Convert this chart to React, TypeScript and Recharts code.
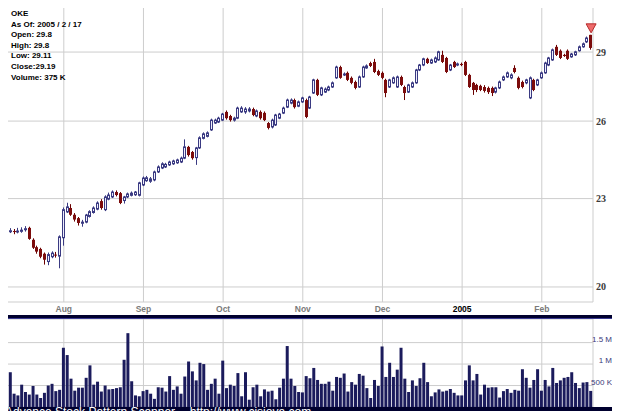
import { ComposedChart, BarChart, Bar, XAxis, YAxis, CartesianGrid, ReferenceDot } from 'recharts';

// OKE daily prices, 2004-07 .. 2005-02-17
const opens = [
  21.86, 21.83, 21.85, 21.82, 21.84, 21.9, 21.96, 21.55, 21.3, 21.24,
  21.08, 20.82, 20.98, 21.05, 21.0, 21.62, 22.52, 22.66, 22.42, 22.3,
  22.12, 22.16, 22.36, 22.5, 22.62, 22.91, 22.6, 22.98, 23.06, 23.24,
  23.2, 22.93, 23.06, 23.12, 23.14, 23.12, 23.5, 23.66, 23.64, 23.69,
  23.99, 24.14, 24.18, 24.26, 24.3, 24.34, 24.37, 24.52, 24.96, 24.76,
  24.54, 24.92, 25.3, 25.38, 25.64, 25.92, 25.96, 26.04, 26.38, 26.21,
  26.04, 26.12, 26.38, 26.38, 26.42, 26.5, 26.21, 26.38, 26.34, 25.92,
  25.76, 25.84, 26.12, 26.33, 26.58, 26.75, 26.88, 26.62, 26.8, 26.88,
  26.54, 27.18, 27.75, 27.1, 27.22, 27.31, 27.44, 27.84, 28.32, 27.97,
  28.06, 27.84, 27.66, 27.44, 27.88, 28.28, 28.5, 28.55, 28.14, 28.06,
  27.75, 27.44, 27.62, 27.44, 27.88, 27.44, 27.22, 27.44, 27.62, 28.19,
  28.41, 28.69, 28.5, 28.55, 28.64, 28.87, 28.73, 28.19, 28.55, 28.41,
  28.46, 28.55, 27.97, 27.62, 27.53, 27.49, 27.44, 27.4, 27.4, 27.22,
  27.4, 27.75, 27.88, 27.84, 28.28, 27.84, 27.66, 27.62, 26.97, 27.75,
  27.53, 27.84, 28.06, 28.41, 28.64, 29.24, 29.06, 28.87, 29.06, 28.78,
  28.87, 29.06, 29.24, 29.47, 29.8,
];
const highs = [
  21.93, 21.95, 21.92, 21.96, 21.98, 22.02, 22.0, 21.6, 21.35, 21.28,
  21.12, 21.12, 21.16, 21.14, 21.7, 22.68, 22.85, 22.8, 22.48, 22.34,
  22.24, 22.45, 22.58, 22.72, 22.9, 22.98, 23.12, 23.22, 23.3, 23.3,
  23.24, 23.1, 23.22, 23.26, 23.28, 23.62, 23.82, 23.84, 23.8, 24.04,
  24.24, 24.36, 24.34, 24.42, 24.46, 24.5, 24.58, 25.26, 25.0, 24.8,
  24.96, 25.38, 25.54, 25.58, 26.1, 26.1, 26.18, 26.34, 26.44, 26.26,
  26.18, 26.6, 26.62, 26.58, 26.58, 26.56, 26.48, 26.44, 26.4, 25.96,
  26.1, 26.3, 26.34, 26.6, 26.94, 26.95, 26.94, 26.86, 27.02, 26.94,
  27.06, 27.8, 27.8, 27.45, 27.42, 27.5, 27.68, 28.38, 28.38, 28.08,
  28.12, 27.9, 27.72, 27.94, 28.38, 28.44, 28.56, 28.69, 28.2, 28.12,
  27.8, 27.8, 27.9, 27.94, 27.94, 27.5, 27.58, 27.68, 28.24, 28.46,
  28.74, 28.74, 28.7, 28.8, 29.06, 29.06, 28.78, 28.46, 28.6, 28.52,
  28.52, 28.6, 28.02, 27.66, 27.58, 27.54, 27.52, 27.46, 27.46, 27.45,
  27.72, 27.94, 28.12, 28.04, 28.4, 27.9, 27.72, 27.8, 27.9, 27.8,
  27.8, 28.12, 28.56, 28.78, 29.16, 29.33, 29.12, 28.92, 29.12, 28.96,
  29.06, 29.3, 29.44, 29.72, 29.8,
];
const lows = [
  21.76, 21.78, 21.74, 21.77, 21.79, 21.83, 21.55, 21.24, 21.08, 20.93,
  20.72, 20.7, 20.93, 20.95, 20.6, 21.35, 22.48, 22.38, 22.18, 22.04,
  22.0, 22.12, 22.32, 22.46, 22.58, 22.6, 22.55, 22.94, 23.02, 23.08,
  22.8, 22.82, 23.02, 23.08, 23.1, 23.08, 23.46, 23.62, 23.58, 23.64,
  23.95, 24.1, 24.14, 24.22, 24.26, 24.3, 24.33, 24.48, 24.58, 24.46,
  24.26, 24.88, 25.26, 25.34, 25.6, 25.88, 25.92, 26.0, 26.06, 25.98,
  25.98, 26.08, 26.34, 26.3, 26.36, 26.2, 26.16, 26.06, 26.0, 25.66,
  25.7, 25.8, 26.08, 26.29, 26.54, 26.7, 26.52, 26.58, 26.76, 26.12,
  26.5, 27.14, 27.05, 27.05, 27.18, 27.26, 27.4, 27.8, 27.8, 27.92,
  27.7, 27.56, 27.34, 27.4, 27.84, 28.24, 28.32, 28.05, 27.92, 27.78,
  27.0, 27.4, 27.58, 27.4, 27.48, 26.88, 27.18, 27.4, 27.58, 28.14,
  28.36, 28.46, 28.46, 28.5, 28.6, 28.5, 28.05, 28.14, 28.28, 28.36,
  28.36, 27.92, 27.4, 27.1, 27.22, 27.26, 27.2, 27.14, 27.05, 27.16,
  27.35, 27.7, 27.84, 27.78, 28.04, 27.34, 27.38, 27.56, 26.92, 27.26,
  27.48, 27.8, 28.02, 28.36, 28.6, 28.82, 28.68, 28.78, 28.64, 28.74,
  28.82, 29.02, 29.2, 29.42, 29.11,
];
const closes = [
  21.83, 21.86, 21.82, 21.85, 21.88, 21.93, 21.58, 21.28, 21.15, 20.98,
  20.88, 21.05, 21.1, 21.02, 21.65, 22.6, 22.7, 22.42, 22.25, 22.13,
  22.16, 22.41, 22.53, 22.66, 22.84, 22.66, 23.06, 23.13, 23.24, 23.13,
  22.84, 23.06, 23.17, 23.2, 23.24, 23.58, 23.76, 23.77, 23.73, 23.99,
  24.18, 24.3, 24.28, 24.37, 24.41, 24.45, 24.52, 24.96, 24.64, 24.52,
  24.92, 25.32, 25.48, 25.52, 26.04, 26.04, 26.12, 26.29, 26.12, 26.04,
  26.12, 26.54, 26.54, 26.5, 26.5, 26.25, 26.42, 26.12, 26.04, 25.72,
  26.04, 26.25, 26.29, 26.54, 26.88, 26.88, 26.58, 26.8, 26.97, 26.17,
  27.01, 27.75, 27.1, 27.4, 27.35, 27.44, 27.62, 28.32, 27.84, 28.01,
  27.75, 27.62, 27.4, 27.88, 28.32, 28.37, 28.37, 28.1, 27.97, 27.84,
  27.18, 27.75, 27.84, 27.88, 27.53, 27.18, 27.53, 27.62, 28.19, 28.41,
  28.69, 28.5, 28.64, 28.73, 29.01, 28.55, 28.1, 28.41, 28.32, 28.46,
  28.41, 27.97, 27.44, 27.31, 27.31, 27.31, 27.27, 27.22, 27.18, 27.4,
  27.66, 27.88, 28.06, 27.97, 28.1, 27.4, 27.44, 27.75, 27.84, 27.31,
  27.75, 28.06, 28.5, 28.73, 29.1, 28.87, 28.73, 28.82, 28.69, 28.91,
  29.01, 29.24, 29.38, 29.65, 29.19,
];
// volume in thousands of shares
const volumes = [
  500, 810, 310, 270, 520, 350, 290, 490, 290, 210,
  330, 500, 540, 370, 400, 1380, 1210, 660, 380, 450,
  450, 680, 970, 520, 590, 360, 500, 410, 420, 440,
  460, 1100, 1720, 600, 270, 250, 370, 400, 310, 190,
  460, 450, 360, 720, 400, 480, 310, 710, 1060, 830,
  620, 1030, 1000, 400, 540, 660, 310, 1080, 440, 520,
  490, 790, 250, 810, 170, 460, 520, 250, 410, 360,
  380, 180, 450, 660, 1420, 660, 490, 350, 340, 720,
  670, 910, 630, 540, 540, 590, 380, 700, 680, 780,
  360, 580, 520, 770, 730, 440, 210, 630, 490, 1410,
  700, 1030, 700, 870, 1380, 660, 350, 620, 490, 670,
  1030, 580, 250, 340, 410, 360, 380, 420, 330, 270,
  270, 620, 970, 620, 770, 290, 520, 450, 460, 460,
  220, 370, 420, 330, 400, 380, 880, 680, 450, 630,
  880, 380, 630, 480, 910, 560, 620, 680, 700, 810,
  560, 440, 570, 580, 375,
];

const monthTicks = [15, 36, 57, 78, 99, 120, 141];
const monthLabels = ['Aug', 'Sep', 'Oct', 'Nov', 'Dec', '2005', 'Feb'];
const priceTicks = [20, 23, 26, 29];
const volumeTicks = [500, 1000, 1500];
const volumeTickLabels = ['500 K', '1 M', '1.5 M'];
const infoLines = ['OKE', 'As Of: 2005 / 2 / 17', 'Open: 29.8', 'High: 29.8', 'Low: 29.11', 'Close:29.19', 'Volume: 375 K'];

const rows = opens.map((o, i) => ({
  i,
  open: o,
  high: highs[i],
  low: lows[i],
  close: closes[i],
  volume: volumes[i],
}));
const last = rows[rows.length - 1];

const NAVY = '#00002e';
const GRID = '#cdcdcd';
const UP_FILL = '#eeeefa';
const UP_LINE = '#3a3a82';
const DOWN_FILL = '#7c0c0c';
const DOWN_LINE = '#6a0000';
const FONT = '"Liberation Sans", Arial, sans-serif';

function Candle(props: any) {
  const { x, y, width, height, payload } = props;
  if (!payload || x == null) return null;
  const { open, close, high, low } = payload;
  const span = Math.log(high) - Math.log(low);
  // log price axis: place open/close between the high and low ends the scale gave us
  const py = (p: number) => (span > 0 ? y + (height * (Math.log(high) - Math.log(p))) / span : y);
  const up = close >= open;
  const left = Math.round(x + width / 2 - 1.5);
  const top = py(Math.max(open, close));
  const bot = py(Math.min(open, close));
  const bh = Math.max(1, bot - top);
  const color = up ? UP_LINE : DOWN_LINE;
  return (
    <g>
      <line x1={left + 1.5} x2={left + 1.5} y1={y} y2={y + height} stroke={color} strokeWidth={1} />
      {up ? (
        <rect x={left + 0.5} y={top} width={2} height={bh} fill={UP_FILL} stroke={UP_LINE} strokeWidth={1} />
      ) : (
        <rect x={left} y={top} width={3} height={bh} fill={DOWN_FILL} />
      )}
    </g>
  );
}

function Marker(props: any) {
  const { cx, cy } = props;
  if (cx == null) return null;
  return (
    <polygon
      points={`${cx - 5},${cy - 11} ${cx + 5},${cy - 11} ${cx},${cy - 2}`}
      fill="#ee6b6b"
      stroke="#b52a2a"
      strokeWidth={1}
    />
  );
}

function MonthTick(props: any) {
  const { x, payload } = props;
  const k = monthTicks.indexOf(payload.value);
  const label = monthLabels[k] ?? '';
  const isYear = label === '2005';
  return (
    <text x={x} y={308} textAnchor="middle" fontSize={8.5} fontWeight="bold" fontFamily={FONT} fill={isYear ? '#000' : '#7a7a7a'}>
      {label}
    </text>
  );
}

function PriceTick(props: any) {
  const { x, y, payload } = props;
  return (
    <text x={x - 5} y={y} dy={3.5} textAnchor="start" fontSize={10} fontWeight="bold" fontFamily='"Liberation Serif", "Times New Roman", serif' fill="#3a3a3a">
      {payload.value}
    </text>
  );
}

function VolumeTick(props: any) {
  const { y, payload } = props;
  const k = volumeTicks.indexOf(payload.value);
  return (
    <text x={607} y={y} dy={-1} textAnchor="end" fontSize={8} fontFamily={FONT} fill="#3a3a7a">
      {volumeTickLabels[k]}
    </text>
  );
}

export default function App() {
  return (
    <div style={{ position: 'relative', width: 620, height: 419, background: NAVY, overflow: 'hidden', margin: -8 }}>
      <div style={{ position: 'absolute', left: 5, top: 4, width: 610, height: 311, background: '#fff' }}>
        <ComposedChart width={610} height={311} data={rows} margin={{ top: 0, right: 0, bottom: 0, left: 0 }}>
          <CartesianGrid stroke={GRID} />
          <XAxis
            dataKey="i"
            type="category"
            ticks={monthTicks}
            interval={0}
            tick={<MonthTick />}
            tickLine={false}
            axisLine={false}
            height={13}
          />
          <YAxis
            orientation="right"
            type="number"
            scale="log"
            domain={[19.53, 31.29]}
            allowDataOverflow
            ticks={priceTicks}
            interval={0}
            tick={<PriceTick />}
            tickLine={false}
            axisLine={false}
            width={22}
          />
          <Bar dataKey={(d: any) => [d.low, d.high]} shape={<Candle />} barSize={3} isAnimationActive={false} />
          <ReferenceDot x={last.i} y={last.high} shape={<Marker />} ifOverflow="visible" />
        </ComposedChart>
      </div>
      <div style={{ position: 'absolute', left: 11, top: 9, fontFamily: FONT, fontSize: 8, fontWeight: 'bold', lineHeight: '10.6px', color: '#000', whiteSpace: 'pre' }}>
        {infoLines.map((t) => (
          <div key={t}>{t}</div>
        ))}
      </div>
      <div style={{ position: 'absolute', left: 0, top: 318, width: 620, height: 1, background: '#3b3b92' }} />
      <div style={{ position: 'absolute', left: 5, top: 319, width: 610, height: 88, background: '#fff', overflow: 'hidden' }}>
        <BarChart width={610} height={88} data={rows} margin={{ top: 0, right: 0, bottom: 0, left: 0 }}>
          <CartesianGrid stroke={GRID} />
          <XAxis dataKey="i" type="category" ticks={monthTicks} interval={0} hide />
          <YAxis
            orientation="right"
            type="number"
            domain={[0, 2050]}
            allowDataOverflow
            ticks={volumeTicks}
            interval={0}
            tick={<VolumeTick />}
            tickLine={false}
            axisLine={false}
            width={22}
          />
          <Bar dataKey="volume" fill="#1b1b5c" barSize={3} isAnimationActive={false} />
        </BarChart>
      </div>
      <div style={{ position: 'absolute', left: 5, top: 406, zIndex: 2, fontFamily: FONT, fontSize: 12, lineHeight: '13px', color: '#fff', whiteSpace: 'nowrap' }}>
        Advance Stock Pattern Scanner -- http://www.cisiova.com
      </div>
    </div>
  );
}
